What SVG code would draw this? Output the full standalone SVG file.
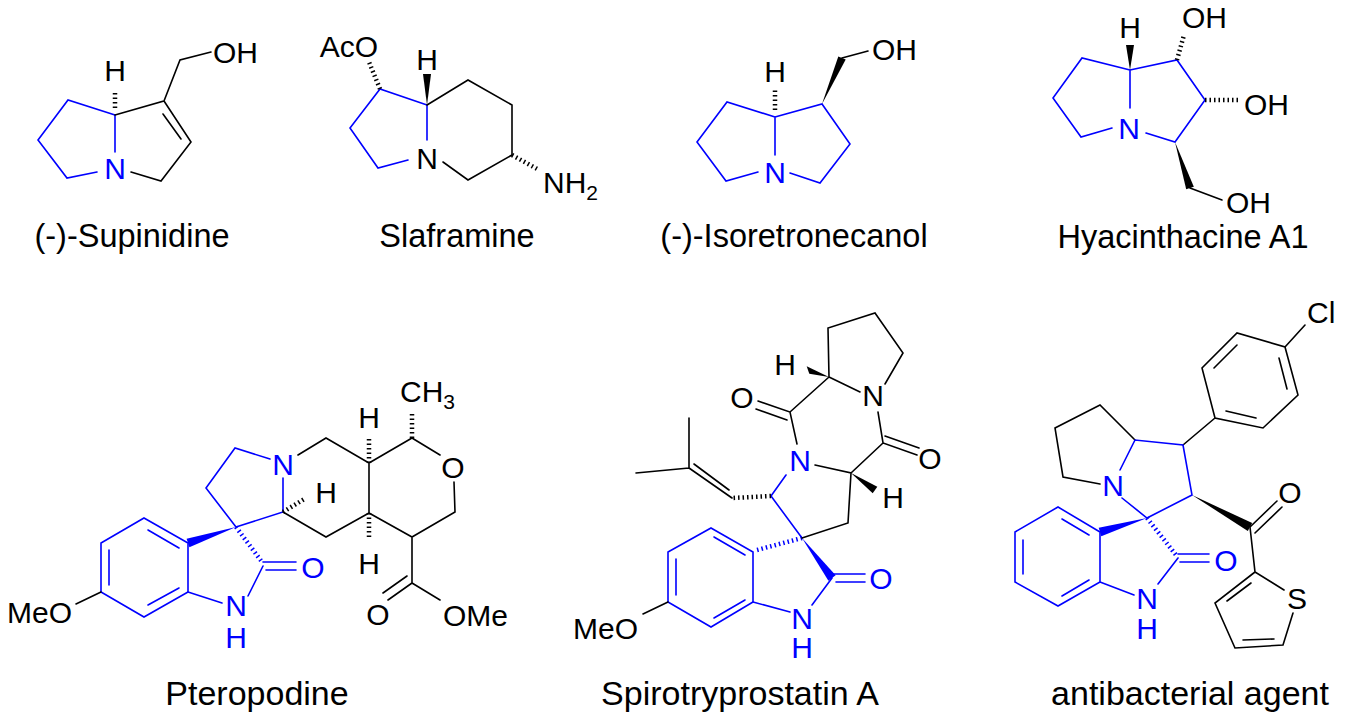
<svg xmlns="http://www.w3.org/2000/svg" width="1347" height="720" viewBox="0 0 1347 720">
<style>
.k{stroke:#000;stroke-width:1.6;fill:none;stroke-linecap:round}
.b{stroke:#0000ff;stroke-width:1.6;fill:none;stroke-linecap:round}
.hk{stroke:#000;stroke-width:4.5;stroke-dasharray:1.5 3;fill:none}
.hb{stroke:#0000ff;stroke-width:4.5;stroke-dasharray:1.5 3;fill:none}
.wk{fill:#000}
.wb{fill:#0000ff}
text{font-family:"Liberation Sans",Arial,sans-serif}
.a{font-size:30px;fill:#000;text-anchor:middle}
.ab{font-size:30px;fill:#0000ff;text-anchor:middle}
.s{font-size:30px;fill:#000}
.t{font-size:32.5px;fill:#000;text-anchor:middle}
.tb{font-size:34px;fill:#000;text-anchor:middle}
</style>
<rect width="1347" height="720" fill="#fff"/>

<g id="supinidine">
<path class="b" d="M115,115 L68,100 L38,140 L67,178 L97,172 M115,115 L115,152"/>
<path class="k" d="M115,115 L164,101 L191,142 L161,181 L131,172 M163,114 L181,139 M164,101 L180,60 L211,52"/>
<line class="hk" x1="115" y1="108" x2="115" y2="90"/>
<text class="ab" x="115" y="179">N</text>
<text class="a" x="115" y="81">H</text>
<text class="s" x="213" y="63">OH</text>
<text class="t" x="132" y="247">(-)-Supinidine</text>
</g>

<g id="slaframine">
<path class="b" d="M427,105 L380,89 L350,128 L378,168 L408,160 M427,105 L427,140"/>
<path class="k" d="M443,162 L468,180 L512,155 L512,105 L468,80 L427,105"/>
<polygon class="wk" points="427,105 423,74 431,74"/>
<line class="hk" x1="380" y1="89" x2="369" y2="62"/>
<line class="hk" x1="512" y1="155" x2="539" y2="170"/>
<text class="a" x="427" y="169">N</text>
<text class="a" x="427" y="70">H</text>
<text class="s" x="378" y="57" text-anchor="end">AcO</text>
<text class="s" x="543" y="193">NH<tspan font-size="21" dy="7">2</tspan></text>
<text class="t" x="457" y="247">Slaframine</text>
</g>

<g id="isoretronecanol">
<path class="b" d="M775,117 L727,102 L697,142 L726,181 L758,172 M775,117 L775,155 M790,173 L820,183 L850,144 L822,104 L775,117"/>
<polygon class="wk" points="822,104 838.3,56.4 845.7,59.6"/>
<path class="k" d="M842,58 L868,51"/>
<line class="hk" x1="775" y1="110" x2="775" y2="88"/>
<text class="ab" x="775" y="183">N</text>
<text class="a" x="775" y="82">H</text>
<text class="s" x="872" y="60">OH</text>
<text class="t" x="794" y="247">(-)-Isoretronecanol</text>
</g>

<g id="hyacinthacine">
<path class="b" d="M1130,70 L1082,58 L1053,98 L1081,137 L1112,128 M1130,70 L1130,108 M1146,133 L1175,142 L1205,100 L1177,60 L1130,70"/>
<polygon class="wk" points="1130,70 1126,45 1134,45"/>
<polygon class="wk" points="1175,142 1186.2,189.2 1193.8,186.8"/>
<path class="k" d="M1190,188 L1222,200"/>
<line class="hk" x1="1177" y1="60" x2="1184" y2="35"/>
<line class="hk" x1="1205" y1="100" x2="1240" y2="100"/>
<text class="ab" x="1129" y="139">N</text>
<text class="a" x="1130" y="38">H</text>
<text class="s" x="1182" y="28">OH</text>
<text class="s" x="1244" y="115">OH</text>
<text class="s" x="1226" y="213">OH</text>
<text class="t" x="1183" y="248">Hyacinthacine A1</text>
</g>

<g id="pteropodine">
<path class="b" d="M144,518 L188,543 L188,592 L144,617 L101,592 L101,543 Z M148,530 L179,548 M109,550 L109,585 M148,605 L179,588"/>
<polygon class="wb" points="236,527 189.4,547.3 186.6,538.7"/>
<line class="hb" x1="236" y1="527" x2="262" y2="562"/>
<path class="b" d="M188,592 L222,603 M248,596 L263,566 M263,562 L296,562 M266,570 L296,570 M236,527 L206,488 L235,448 L270,459 M283,478 L283,512 L236,527"/>
<line class="hk" x1="283" y1="512" x2="306" y2="498"/>
<path class="k" d="M298,455 L326,438 L369,463 L369,513 L326,537 L283,512 M369,463 L412,438 L440,455 M454,482 L455,512 L412,537 L369,513 M412,537 L412,583 L388,600 M407,576 L383,593 M412,583 L440,600 M101,592 L76,604"/>
<line class="hk" x1="369" y1="463" x2="369" y2="438"/>
<line class="hk" x1="369" y1="513" x2="369" y2="540"/>
<line class="hk" x1="412" y1="438" x2="412" y2="412"/>
<text class="ab" x="283" y="475">N</text>
<text class="ab" x="313" y="578">O</text>
<text class="ab" x="236" y="616">N</text>
<text class="ab" x="236" y="648">H</text>
<text class="a" x="326" y="503">H</text>
<text class="a" x="369" y="428">H</text>
<text class="a" x="369" y="574">H</text>
<text class="a" x="453" y="478">O</text>
<text class="a" x="378" y="625">O</text>
<text class="s" x="443" y="626">OMe</text>
<text class="s" x="72" y="623" text-anchor="end">MeO</text>
<text class="s" x="400" y="402">CH<tspan font-size="21" dy="7">3</tspan></text>
<text class="tb" x="257" y="705">Pteropodine</text>
</g>

<g id="spirotryprostatin">
<path class="b" d="M711,528 L753,552 L753,602 L711,627 L668,602 L668,552 Z M714,537 L745,555 M676,559 L676,595 M714,618 L745,600"/>
<line class="hb" x1="802" y1="538" x2="757" y2="550"/>
<polygon class="wb" points="802,538 835.6,575.3 828.4,580.7"/>
<path class="b" d="M832,574 L865,574 M836,582 L865,582 M753,602 L790,612 M812,605 L832,578 M802,538 L771,496 L786,475"/>
<path class="k" d="M802,538 L848,523 L851,473 L815,465 M797,444 L790,412 L758,401 M787,420 L756,409 M790,412 L829,377 L828,328 L875,313 L903,353 L885,384 M860,392 L829,377 M878,412 L883,443 L917,455 M885,436 L919,448 M883,443 L851,473 M732,498 L689,468 L689,418 M689,468 L636,473 M729,490 L694,464 M668,602 L643,614"/>
<line class="hk" x1="771" y1="496" x2="732" y2="498"/>
<polygon class="wk" points="829,377 806.7,366.2 809.3,373.8"/>
<polygon class="wk" points="851,473 877.3,486.7 872.7,493.3"/>
<text class="ab" x="800" y="471">N</text>
<text class="ab" x="881" y="589">O</text>
<text class="ab" x="802" y="629">N</text>
<text class="ab" x="802" y="658">H</text>
<text class="a" x="742" y="408">O</text>
<text class="a" x="873" y="406">N</text>
<text class="a" x="930" y="469">O</text>
<text class="a" x="785" y="375">H</text>
<text class="a" x="893" y="508">H</text>
<text class="s" x="638" y="639" text-anchor="end">MeO</text>
<text class="tb" x="740" y="705">Spirotryprostatin A</text>
</g>

<g id="antibacterial">
<path class="k" d="M1135,440 L1100,405 L1055,428 L1063,477 L1100,484 M1183,445 L1215,418 M1215,418 L1202,368 L1237,333 L1285,347 L1298,395 L1263,428 Z M1214,368 L1237,345 M1279,358 L1287,389 M1256,418 L1226,411 M1285,347 L1305,325 M1250,527 L1277,501 M1255,533 L1282,507 M1250,527 L1255,572 L1284,590 M1293,613 L1283,645 L1235,648 L1215,603 L1255,572 M1251,583 L1227,601 M1243,640 L1274,639"/>
<path class="b" d="M1120,470 L1135,440 L1183,445 L1192,495 L1147,518 L1122,498"/>
<polygon class="wk" points="1192,495 1252.2,523.1 1247.8,530.9"/>
<path class="b" d="M1100,532 L1058,507 L1015,532 L1015,582 L1058,606 L1100,582 Z M1089,535 L1062,519 M1023,540 L1023,574 M1062,596 L1089,580 M1100,582 L1134,595 M1158,584 L1178,558 M1178,554 L1209,554 M1180,562 L1209,562"/>
<polygon class="wb" points="1147,518 1101.3,536.3 1098.7,527.7"/>
<line class="hb" x1="1147" y1="518" x2="1176" y2="555"/>
<text class="ab" x="1113" y="496">N</text>
<text class="ab" x="1226" y="571">O</text>
<text class="ab" x="1147" y="609">N</text>
<text class="ab" x="1147" y="639">H</text>
<text class="a" x="1290" y="503">O</text>
<text class="a" x="1297" y="609">S</text>
<text class="s" x="1307" y="323">Cl</text>
<text class="tb" x="1190" y="705">antibacterial agent</text>
</g>
</svg>
